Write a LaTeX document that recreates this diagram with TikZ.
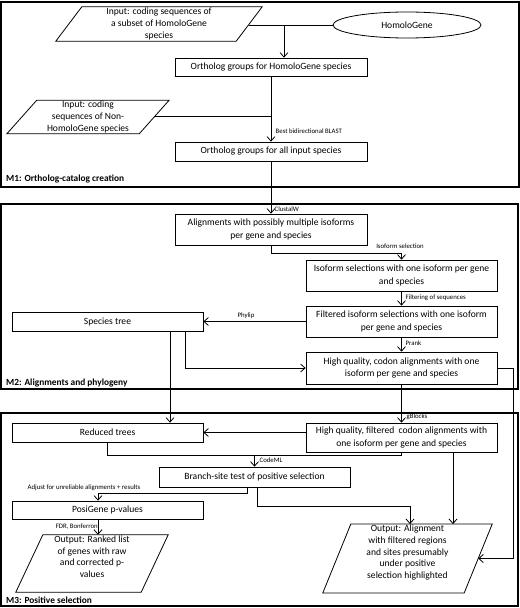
\documentclass[tikz,border=0pt]{standalone}
\usepackage{fontspec}
\setmainfont{Carlito}
\usetikzlibrary{shapes.geometric,arrows.meta,calc}
\begin{document}
\begin{tikzpicture}[x=1bp,y=-1bp,
  every node/.style={inner sep=1bp},
  box/.style={draw,rectangle,align=center,font=\fontsize{9.6}{12.3}\selectfont,line width=0.7bp},
  para/.style={rectangle,align=center,font=\fontsize{9.6}{11.6}\selectfont},
  lbl/.style={font=\fontsize{6.8}{7.5}\selectfont,inner sep=0.5bp},
  frametitle/.style={font=\fontsize{9.4}{11}\selectfont\bfseries,anchor=west,inner sep=0bp},
  framebox/.style={line width=1.6bp},
  link/.style={line width=0.8bp},
  arr/.style={link,-{Straight Barb[length=4.5bp,width=8bp]}}
]
\useasboundingbox (0,0) rectangle (520,608);
% frames
\draw[framebox] (1,2) rectangle (519,187);
\draw[framebox] (1,204) rectangle (518,389);
\draw[framebox] (1,413) rectangle (518,606);
\node[frametitle] (t1) at (6,179) {M1: Ortholog-catalog creation};
\node[frametitle] (t2) at (6,383) {M2: Alignments and phylogeny};
\node[frametitle] (t3) at (6,600) {M3: Positive selection};

% M1
\node[para,minimum width=206bp,minimum height=34bp] (in1) at (159,24)
  {Input: coding sequences of\\a subset of HomoloGene\\species};
\draw[link] ($(in1.south west)$) -- ($(in1.north west)+(26,0)$) -- (in1.north east) -- ($(in1.south east)+(-26,0)$) -- cycle;
\coordinate (in1e) at ($(in1.east)+(-13,1)$);
\node[draw,ellipse,link,minimum width=148bp,minimum height=26bp,font=\fontsize{9.6}{11}\selectfont] (hg) at (407,25) {HomoloGene};
\node[box,minimum width=192bp,minimum height=18bp] (orthoHG) at (271,67) {Ortholog groups for HomoloGene species};
\coordinate (j1) at (284,25);
\draw[link] (in1e) -- (hg.west);
\draw[arr] (j1) -- (j1 |- orthoHG.north);

\node[para,minimum width=162bp,minimum height=32bp] (in2) at (88,117)
  {Input: coding\\sequences of Non-\\HomoloGene species};
\draw[link] ($(in2.south west)$) -- ($(in2.north west)+(30,0)$) -- (in2.north east) -- ($(in2.south east)+(-30,0)$) -- cycle;
\coordinate (in2e) at ($(in2.east)+(-15,-1)$);
\node[box,minimum width=192bp,minimum height=19bp] (orthoAll) at (271,151.5) {Ortholog groups for all input species};
\draw[arr] (orthoHG.south) -- (orthoAll.north);
\draw[link] (in2e) -- (in2e -| orthoHG.south);
\node[lbl,anchor=west] (lb1) at (275,131) {Best bidirectional BLAST};

% M2
\node[box,minimum width=192bp,minimum height=31bp] (align) at (271,229.5)
  {Alignments with possibly multiple isoforms\\per gene and species};
\draw[arr] (orthoAll.south) -- (align.north);
\node[lbl,anchor=west] (lb2) at (274,209) {ClustalW};
\node[box,minimum width=191bp,minimum height=31bp] (isosel) at (401.5,275.5)
  {Isoform selections with one isoform per gene\\and species};
\draw[arr] (align.south) -- ++(0,8) -| (isosel.north);
\node[lbl] (lb3) at (400,246) {Isoform selection};
\node[box,minimum width=191bp,minimum height=31bp] (filtered) at (401.5,321.5)
  {Filtered isoform selections with one isoform\\per gene and species};
\draw[arr] (isosel.south) -- (filtered.north);
\node[lbl,anchor=west] (lb4) at (405,298) {Filtering of sequences};
\node[box,minimum width=191bp,minimum height=19bp] (sptree) at (107.5,321.5) {Species tree};
\draw[arr] (filtered.west) -- (sptree.east);
\node[lbl] (lb5) at (246,316) {Phylip};
\node[box,minimum width=191bp,minimum height=32bp] (hq) at (401.5,368)
  {High quality, codon alignments with one\\isoform per gene and species};
\draw[arr] (filtered.south) -- (hq.north);
\node[lbl,anchor=west] (lb6) at (405,343) {Prank};
\draw[arr] ($(sptree.south)+(77.5,0)$) |- (hq.west);

% M3
\node[box,minimum width=191bp,minimum height=19bp] (reduced) at (107.5,432.5) {Reduced trees};
\draw[arr] ($(sptree.south)+(62.5,0)$) -- ($(reduced.north)+(62.5,0)$);
\node[box,minimum width=191bp,minimum height=29bp] (hqf) at (401.5,437.5)
  {High quality, filtered~~codon alignments with\\one isoform per gene and species};
\draw[arr] (hq.south) -- (hqf.north);
\node[lbl,anchor=west] (lb7) at (406,417) {gBlocks};
\draw[arr] (hqf.west |- reduced.east) -- (reduced.east);

\node[box,minimum width=191bp,minimum height=20bp] (branch) at (254.5,477) {Branch-site test of positive selection};
\coordinate (bj) at ($(branch.north)+(0,-11)$);
\draw[link] (reduced.south) |- (bj);
\draw[link] (hqf.south) |- (bj);
\draw[arr] (bj) -- (branch.north);
\node[lbl,anchor=west] (lb8) at (259,460) {CodeML};

\node[box,minimum width=191bp,minimum height=18bp] (posi) at (107.5,510) {PosiGene p-values};
\draw[arr] ($(branch.south)+(-7.5,0)$) -- ++(0,6) -| ($(posi.north)+(-9.5,0)$);
\node[lbl] (lb9) at (84,488) {Adjust for unreliable alignments + results};

\node[para,minimum width=152bp,minimum height=57bp] (out1) at (92,563.5)
  {Output: Ranked list\\of genes with raw\\and corrected p-\\values\\[2bp]};
\draw[link] ($(out1.south west)$) -- ($(out1.north west)+(27,0)$) -- (out1.north east) -- ($(out1.south east)+(-27,0)$) -- cycle;
\draw[arr] ($(posi.south)+(-9.5,0)$) -- ($(out1.north)+(6,0)$);
\node[lbl,anchor=east] (lb10) at (100,527) {FDR, Bonferroni};

\node[para,minimum width=169bp,minimum height=67bp] (out2) at (407.5,558.5)
  {Output: Alignment\\with filtered regions\\and sites presumably\\under positive\\selection highlighted\\[2bp]};
\draw[link] ($(out2.south west)$) -- ($(out2.north west)+(28,0)$) -- (out2.north east) -- ($(out2.south east)+(-28,0)$) -- cycle;
\coordinate (out2e) at ($(out2.east)+(-14,0)$);
\draw[arr] ($(branch.south)+(2.5,0)$) -- ++(0,19) -| ($(out2.north)+(2.5,0)$);
\draw[arr] ($(hqf.south)+(51.5,0)$) -- ($(out2.north)+(45.5,0)$);
\draw[arr] (hq.east) -- ++(16,0) |- (out2e);
\end{tikzpicture}
\end{document}
